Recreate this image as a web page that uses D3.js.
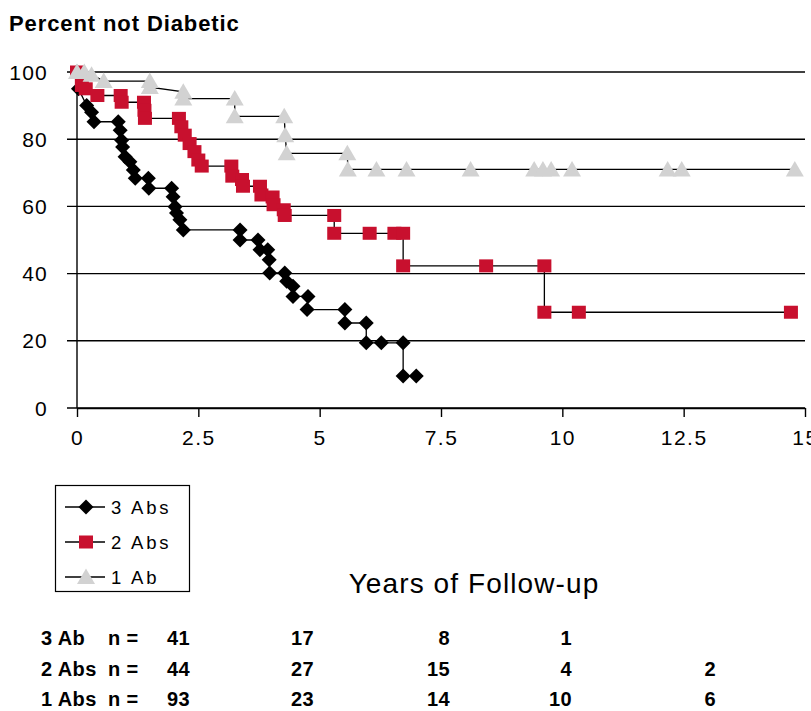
<!DOCTYPE html>
<html>
<head>
<meta charset="utf-8">
<script src="https://cdn.jsdelivr.net/npm/d3@7"></script>
<style>
  body { margin: 0; background: #fff; }
  svg { display: block; font-family: "Liberation Sans", Arial, sans-serif; }
</style>
</head>
<body>
<svg id="chart" width="811" height="711"></svg>
<script>
// Survival-type curves: percent not diabetic vs years of follow-up, by number of antibodies.
// Each point is [years, percent]; repeated x values make the steps.

const seriesNames = ["3 Abs", "2 Abs", "1 Ab"];

const threeAbs = [
  [0, 100], [0.03, 95], [0.2, 90], [0.3, 88], [0.35, 85.2], [0.85, 85.2], [0.89, 82.7],
  [0.92, 79.7], [0.94, 77.7], [0.99, 74.8], [1.09, 73.3], [1.16, 70.8], [1.2, 68.4],
  [1.47, 68.4], [1.48, 65.4], [1.95, 65.4], [1.98, 62.9], [2.02, 59.9], [2.05, 58],
  [2.12, 56], [2.19, 53], [3.36, 53], [3.36, 50], [3.73, 50], [3.77, 47.1], [3.93, 47.1],
  [3.96, 44.1], [3.97, 40.2], [4.28, 40.2], [4.32, 37.7], [4.45, 36.2], [4.45, 33.2],
  [4.76, 33.2], [4.74, 29.3], [5.52, 29.3], [5.52, 25.3], [5.96, 25.3], [5.96, 19.4],
  [6.27, 19.4], [6.72, 19.4], [6.72, 9.5], [6.99, 9.5]
];

const twoAbs = [
  [0, 100], [0.1, 96], [0.18, 95], [0.42, 93], [0.9, 93], [0.92, 91], [1.38, 91],
  [1.39, 88.6], [1.4, 86.2], [2.1, 86.2], [2.15, 83.7], [2.22, 81.2], [2.32, 78.7],
  [2.42, 76.3], [2.5, 73.8], [2.57, 72], [3.18, 72], [3.2, 69], [3.4, 68], [3.42, 66],
  [3.77, 66], [3.8, 63.4], [4.03, 62.8], [4.05, 60.5], [4.26, 59], [4.28, 57.3],
  [5.3, 57.3], [5.3, 52], [6.03, 52], [6.54, 52], [6.72, 52], [6.72, 42.3],
  [8.43, 42.3], [9.63, 42.3], [9.63, 28.5], [10.34, 28.5], [14.71, 28.5]
];

const oneAb = [
  [0, 100], [0.15, 100], [0.3, 99.2], [0.55, 97.3], [1.5, 97.3], [1.5, 95.5],
  [2.19, 94.1], [2.19, 92.1], [3.25, 92.1], [3.25, 86.8], [4.27, 86.8], [4.29, 81.2],
  [4.32, 75.8], [5.57, 75.8], [5.58, 71], [6.17, 71], [6.79, 71], [8.11, 71],
  [9.42, 71], [9.6, 71], [9.77, 71], [10.2, 71], [12.17, 71], [12.46, 71], [14.79, 71]
];

const xTicks = [0, 2.5, 5, 7.5, 10, 12.5, 15];
const yTicks = [0, 20, 40, 60, 80, 100];

// numbers at risk, one entry per column (null = blank)
const tableLabels = ["3 Ab", "2 Abs", "1 Abs"];
const atRiskThree = [41, 17, 8, 1, null];
const atRiskTwo = [44, 27, 15, 4, 2];
const atRiskOne = [93, 23, 14, 10, 6];

const svg = d3.select("#chart");

const x = d3.scaleLinear().domain([0, 15]).range([77, 805]);
const y = d3.scaleLinear().domain([0, 100]).range([408, 72]);

// Title
svg.append("text")
    .attr("x", 9).attr("y", 31)
    .attr("font-size", 22).attr("font-weight", "bold")
    .attr("letter-spacing", 0.9)
    .text("Percent not Diabetic");

// Horizontal gridlines, extended a bit left of the axis as ticks
svg.append("g")
    .selectAll("line")
    .data(yTicks)
    .enter().append("line")
    .attr("x1", x(0) - 10).attr("x2", x(15))
    .attr("y1", d => y(d)).attr("y2", d => y(d))
    .attr("stroke", "#000").attr("stroke-width", 1.4);

svg.append("g")
    .selectAll("text")
    .data(yTicks)
    .enter().append("text")
    .attr("x", 48).attr("y", d => y(d) + 7.5)
    .attr("text-anchor", "end")
    .attr("font-size", 21)
    .attr("letter-spacing", 1.2)
    .text(d => d);

// y axis line
svg.append("line")
    .attr("x1", x(0)).attr("x2", x(0))
    .attr("y1", y(100)).attr("y2", y(0))
    .attr("stroke", "#000").attr("stroke-width", 1.4);

// x axis
const xAxis = d3.axisBottom(x).tickValues(xTicks).tickSize(9).tickSizeOuter(0)
    .tickFormat(d => d);
const gx = svg.append("g")
    .attr("transform", `translate(0,${y(0)})`)
    .call(xAxis);
gx.select(".domain").attr("stroke-width", 1.4);
gx.selectAll(".tick line").attr("stroke-width", 1.4);
gx.selectAll(".tick text")
    .attr("font-size", 21)
    .attr("letter-spacing", 1.5)
    .attr("font-family", "Liberation Sans, Arial, sans-serif")
    .attr("fill", "#000")
    .attr("y", 37)
    .attr("dy", 0);

// markers
function diamond(g, fill) {
  g.append("path").attr("d", "M0,-7.5L7.5,0L0,7.5L-7.5,0Z").attr("fill", fill);
}
function square(g, fill) {
  g.append("rect").attr("x", -7).attr("y", -6.5).attr("width", 14).attr("height", 13).attr("fill", fill);
}
function triangle(g, fill) {
  g.append("path").attr("d", "M0,-8.5L9,7L-9,7Z").attr("fill", fill);
}

const series = [
  {name: seriesNames[0], data: threeAbs, color: "#000", marker: diamond},
  {name: seriesNames[1], data: twoAbs, color: "#c8102e", marker: square},
  {name: seriesNames[2], data: oneAb, color: "#d2d2d2", marker: triangle}
];

const line = d3.line().x(d => x(d[0])).y(d => y(d[1]));

series.forEach(s => {
  const g = svg.append("g");
  g.append("path")
      .attr("d", line(s.data))
      .attr("fill", "none")
      .attr("stroke", "#000")
      .attr("stroke-width", 1.3);
  g.selectAll("g.mk")
      .data(s.data)
      .enter().append("g")
      .attr("class", "mk")
      .attr("transform", d => `translate(${x(d[0])},${y(d[1])})`)
      .each(function() { s.marker(d3.select(this), s.color); });
});

// Legend
const legend = svg.append("g");
legend.append("rect")
    .attr("x", 55.5).attr("y", 485.5).attr("width", 134).attr("height", 106)
    .attr("fill", "#fff").attr("stroke", "#000").attr("stroke-width", 1.2);
series.forEach((s, i) => {
  const ly = 507 + i * 35;
  legend.append("line")
      .attr("x1", 65).attr("x2", 105).attr("y1", ly).attr("y2", ly)
      .attr("stroke", "#000").attr("stroke-width", 1.3);
  const mg = legend.append("g").attr("transform", `translate(86,${ly})`);
  s.marker(mg, s.color);
  legend.append("text")
      .attr("x", 111).attr("y", ly + 7)
      .attr("font-size", 18.5)
      .attr("letter-spacing", 2.8)
      .text(s.name);
});

// Axis title
svg.append("text")
    .attr("x", 474).attr("y", 593)
    .attr("text-anchor", "middle")
    .attr("font-size", 28)
    .attr("letter-spacing", 1.1)
    .text("Years of Follow-up");

// Numbers at risk table
const colX = [190, 314, 450, 572, 716];
const tableData = [atRiskThree, atRiskTwo, atRiskOne];
const table = svg.append("g")
    .attr("font-weight", "bold")
    .attr("font-size", 20)
    .attr("letter-spacing", 0.4);
tableData.forEach((row, i) => {
  const ty = 645 + i * 30.5;
  table.append("text").attr("x", 41).attr("y", ty).text(tableLabels[i]);
  table.append("text").attr("x", 108).attr("y", ty).text("n =");
  row.forEach((v, j) => {
    if (v == null) return;
    table.append("text")
        .attr("x", colX[j]).attr("y", ty)
        .attr("text-anchor", "end")
        .text(v);
  });
});
</script>
</body>
</html>
